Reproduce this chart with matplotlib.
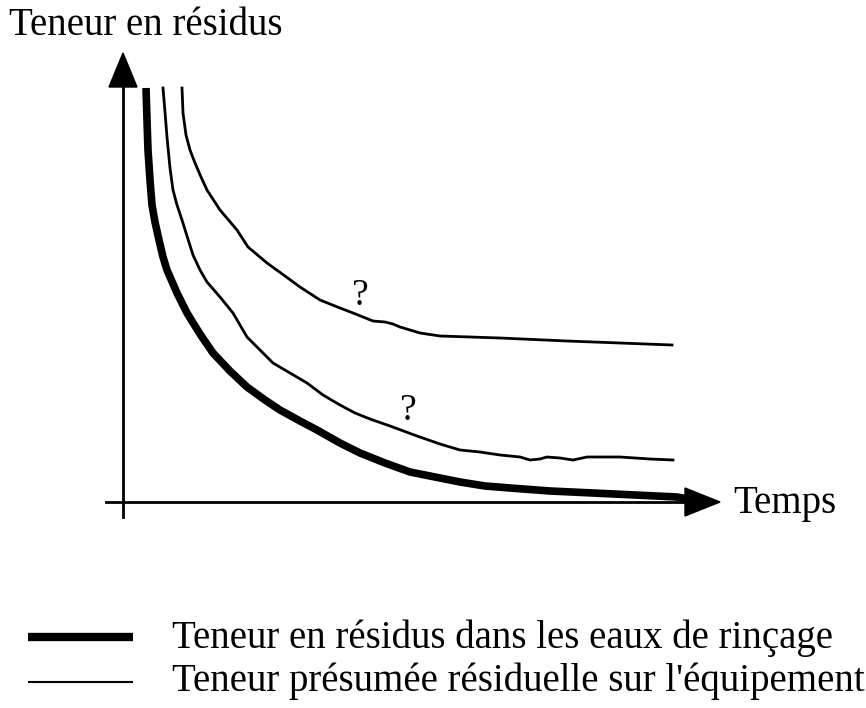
import matplotlib.pyplot as plt

# curves (pixel units, y downwards)
eaux_x = [146, 147, 148, 150, 152, 155, 159, 163, 167, 177, 187, 200, 213, 230, 247, 265, 280, 300, 317, 340, 360, 385, 410, 435, 460, 485, 510, 550, 593, 635, 677, 700]
eaux_y = [88, 120, 150, 180, 205, 222, 240, 257, 270, 293, 313, 334, 353, 371, 387, 400, 410, 421, 430, 443, 453, 463, 472, 477, 482, 486, 488, 491, 493, 495, 497, 501]

equip1_x = [163, 165, 167, 170, 173, 177, 182, 187, 193, 200, 207, 220, 233, 240, 247, 260, 273, 290, 307, 323, 340, 355, 370, 390, 417, 440, 460, 480, 500, 520, 530, 540, 547, 560, 573, 587, 620, 650, 673]
equip1_y = [88, 112, 137, 168, 190, 205, 220, 236, 255, 270, 282, 297, 313, 325, 337, 350, 363, 373, 383, 395, 405, 413, 419, 426, 436, 444, 450, 452, 455, 457, 460, 459, 457, 458, 460, 457, 457, 459, 460]

equip2_x = [182, 183, 186, 190, 195, 201, 207, 220, 237, 248, 267, 285, 300, 320, 340, 353, 373, 385, 393, 400, 420, 440, 500, 567, 620, 672]
equip2_y = [88, 113, 135, 150, 163, 177, 190, 210, 230, 247, 263, 276, 287, 300, 308, 313, 321, 322, 324, 327, 333, 336, 338, 341, 343, 345]

plt.rcParams['font.family'] = ['Liberation Serif', 'DejaVu Serif']
fs = 28

fig = plt.figure(figsize=(8.66, 7.08), dpi=100)
ax = fig.add_axes([0, 0, 1, 1])
ax.set_xlim(0, 866)
ax.set_ylim(708, 0)
ax.axis('off')

# axes with arrows
ax.plot([123, 123], [517, 80], color='black', lw=2)
ax.fill([109, 137, 123], [87, 87, 53], color='black')
ax.plot([106, 690], [502, 502], color='black', lw=2)
ax.fill([685, 685, 720], [488, 516, 502], color='black')

ax.plot(eaux_x, eaux_y, color='black', lw=5.5, solid_capstyle='butt', solid_joinstyle='round')
ax.plot(equip1_x, equip1_y, color='black', lw=2, solid_joinstyle='round')
ax.plot(equip2_x, equip2_y, color='black', lw=2, solid_joinstyle='round')

ax.text(360, 305, '?', fontsize=fs - 1, ha='center', va='baseline')
ax.text(408, 420, '?', fontsize=fs - 1, ha='center', va='baseline')

ax.text(9, 35, 'Teneur en résidus', fontsize=fs, ha='left', va='baseline')
ax.text(733, 513, 'Temps', fontsize=fs, ha='left', va='baseline')

# legend
ax.plot([28, 133], [637, 637], color='black', lw=6, solid_capstyle='butt')
ax.plot([28, 133], [682, 682], color='black', lw=1.5, solid_capstyle='butt')
ax.text(172, 648, 'Teneur en résidus dans les eaux de rinçage', fontsize=fs, ha='left', va='baseline')
ax.text(172, 691, "Teneur présumée résiduelle sur l'équipement", fontsize=fs, ha='left', va='baseline')

fig.savefig('out.png', dpi=100)
